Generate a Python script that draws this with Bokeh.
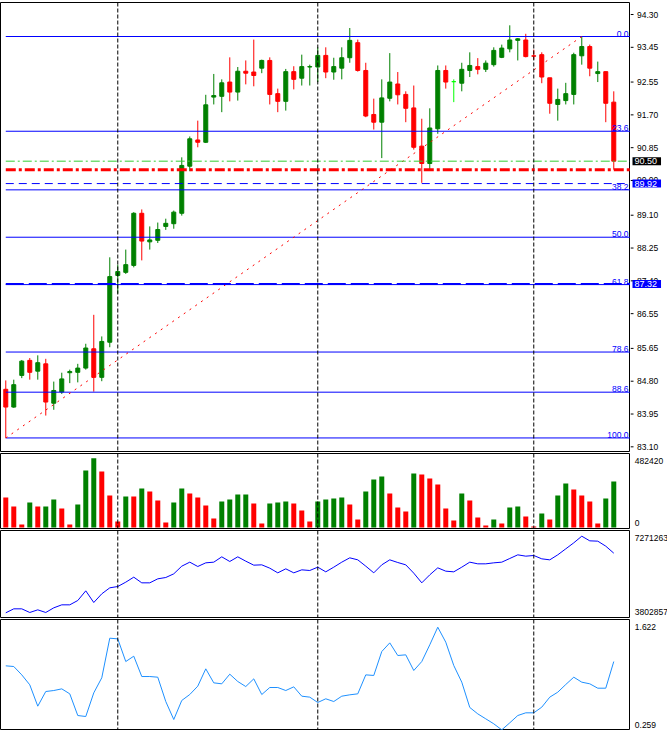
from bokeh.plotting import figure
from bokeh.models import Range1d, Span, Label, ColumnDataSource
from bokeh.layouts import column, row
from bokeh.embed import file_html
from bokeh.resources import INLINE

# ---------------- data ----------------
opens = [84.59, 84.13, 84.95, 85.34, 85.06, 85.25, 84.23, 84.52, 85.02, 85.03,
         85.14, 85.64, 84.90, 85.81, 87.54, 87.62, 87.80, 89.15, 88.41, 88.45,
         88.81, 88.88, 89.15, 90.37, 91.05, 90.99, 92.16, 92.18, 92.55, 92.29,
         92.83, 92.81, 92.91, 93.11, 92.25, 92.05, 92.82, 92.65, 92.94, 92.94,
         93.24, 92.81, 92.91, 93.18, 93.57, 92.85, 91.71, 91.51, 92.13, 92.50,
         92.23, 91.88, 90.89, 90.44, 91.34, 92.85, 92.56, 92.52, 92.85, 92.95,
         92.88, 93.00, 93.19, 93.41, 93.63, 93.64, 93.23, 93.26, 92.66, 91.97,
         92.07, 92.23, 93.23, 93.47, 92.77, 92.82, 92.03]
highs = [84.82, 84.84, 85.35, 85.40, 85.47, 85.38, 84.79, 85.02, 85.10, 85.25,
         85.77, 86.52, 85.96, 88.01, 87.82, 88.21, 89.18, 89.25, 88.81, 88.91,
         89.01, 89.22, 90.60, 91.14, 91.55, 92.22, 92.76, 92.62, 93.19, 92.94,
         93.11, 93.65, 93.13, 93.19, 92.38, 92.89, 92.96, 93.26, 93.00, 93.45,
         93.45, 93.18, 93.45, 93.95, 93.65, 93.05, 92.12, 92.62, 93.30, 92.81,
         92.31, 92.46, 91.60, 91.87, 92.98, 92.98, 92.62, 93.05, 93.32, 93.17,
         93.11, 93.45, 93.52, 94.02, 93.69, 93.80, 93.39, 93.32, 92.66, 92.38,
         92.53, 93.31, 93.73, 93.52, 93.08, 92.82, 92.31]
lows = [83.33, 84.11, 84.88, 84.84, 84.84, 83.91, 84.06, 84.47, 84.75, 84.77,
        85.10, 84.53, 84.80, 85.68, 87.07, 87.58, 87.75, 87.93, 88.21, 88.38,
        88.72, 88.75, 89.09, 90.24, 90.86, 90.97, 91.97, 91.77, 92.05, 92.07,
        92.49, 92.44, 92.78, 91.97, 91.77, 91.81, 92.36, 92.46, 92.46, 92.55,
        92.65, 92.61, 92.62, 93.05, 92.82, 91.64, 91.32, 90.58, 92.05, 91.97,
        91.51, 90.80, 89.94, 90.26, 91.21, 92.38, 92.03, 92.31, 92.68, 92.75,
        92.81, 92.95, 93.17, 93.32, 93.11, 93.19, 93.13, 92.52, 91.73, 91.55,
        91.97, 91.97, 93.00, 92.70, 92.55, 91.51, 90.28]
closes = [84.13, 84.71, 85.32, 85.03, 85.28, 84.26, 84.56, 84.86, 85.05, 85.14,
          85.66, 84.90, 85.83, 87.51, 87.64, 87.82, 89.15, 88.43, 88.46, 88.73,
          88.89, 89.18, 90.39, 91.08, 90.99, 91.96, 92.20, 92.53, 92.29, 92.83,
          92.78, 92.72, 93.11, 92.23, 92.05, 92.82, 92.62, 92.95, 92.95, 93.24,
          92.81, 92.95, 93.18, 93.63, 92.85, 91.67, 91.51, 92.14, 92.55, 92.22,
          91.87, 90.86, 90.44, 91.36, 92.85, 92.55, 92.56, 92.88, 92.98, 92.88,
          93.04, 93.37, 93.43, 93.64, 93.67, 93.21, 93.22, 92.68, 92.00, 92.10,
          92.25, 93.26, 93.47, 92.91, 92.82, 92.00, 90.50]

volumes = [208700, 146100, 20900, 173900, 146100, 146500, 194800, 132200, 20900, 160000,
           396600, 482420, 389600, 222600, 41700, 215700, 215600, 271400, 250500, 187900,
           34800, 173900, 271400, 236600, 208700, 153100, 62600, 180900, 194800, 229600,
           229700, 167000, 27800, 167000, 173900, 180900, 167000, 118300, 41700, 180900,
           194800, 201800, 208700, 160000, 55700, 250500, 334000, 354800, 236600, 139200,
           111300, 375700, 368800, 340900, 299200, 132200, 48700, 236600, 187900, 69600,
           13900, 55700, 27800, 139200, 146100, 76500, 7000, 97400, 55700, 222600,
           306100, 264400, 222600, 180900, 27800, 201800, 320100]
volume_up = [0, 0, 0, 1, 0, 1, 1, 0, 0, 1,
             1, 1, 0, 0, 0, 1, 0, 1, 0, 0,
             0, 1, 1, 0, 0, 0, 0, 1, 1, 1,
             1, 0, 0, 1, 1, 1, 0, 0, 0, 1,
             1, 1, 1, 0, 0, 1, 1, 1, 0, 0,
             0, 1, 0, 0, 0, 0, 0, 1, 0, 0,
             0, 1, 0, 1, 1, 0, 0, 1, 0, 1,
             1, 0, 0, 0, 0, 1, 1]

obv = [3802857, 3982500, 3982500, 3816500, 3937200, 3816500, 4027700, 4163500, 4163500, 4359700,
       4797400, 4269200, 4661700, 4933400, 4993700, 5189900, 5416300, 5159700, 5159700, 5340800,
       5401200, 5567200, 5914400, 6095500, 5899300, 6065300, 6095500, 6337000, 6125700, 6337000,
       6140800, 5959700, 5974700, 5823800, 5612500, 5793600, 5612500, 5748400, 5718200, 5869100,
       5657800, 5869100, 6095500, 6291700, 6201200, 5914400, 5612500, 5974800, 6201200, 6080400,
       5974800, 5597400, 5159800, 5522000, 5838900, 5688000, 5657800, 5869100, 6095500, 6020100,
       6020100, 6065300, 6095500, 6261600, 6427600, 6367200, 6397400, 6246500, 6201200, 6427600,
       6699200, 6970900, 7271263, 7061500, 7046400, 6820000, 6503000]

osc = [1.109, 1.100, 0.989, 0.857, 0.573, 0.768, 0.781, 0.803, 0.737, 0.449,
       0.436, 0.750, 0.950, 1.476, 1.467, 1.166, 1.237, 0.967, 0.967, 0.958,
       0.635, 0.396, 0.649, 0.728, 0.839, 1.069, 0.883, 0.870, 0.998, 0.901,
       0.834, 0.936, 0.728, 0.821, 0.821, 0.781, 0.830, 0.706, 0.693, 0.622,
       0.671, 0.635, 0.706, 0.724, 0.737, 0.989, 0.981, 1.299, 1.414, 1.246,
       1.255, 1.047, 1.166, 1.388, 1.622, 1.423, 1.113, 0.892, 0.556, 0.471,
       0.405, 0.339, 0.259, 0.352, 0.449, 0.485, 0.485, 0.560, 0.693, 0.759,
       0.861, 0.958, 0.892, 0.870, 0.812, 0.812, 1.166]

price_ticks = [94.30, 93.45, 92.55, 91.70, 90.85, 90.00, 89.10, 88.25,
               87.40, 86.55, 85.65, 84.80, 83.95, 83.10]
fib_levels = [0.0, 23.6, 38.2, 50.0, 61.8, 78.6, 88.6, 100.0]
fib_from_bar = 0      # low anchor
fib_to_bar = 72       # high anchor
bid_price = 90.50
red_level = 90.28
blue_level_1 = 89.92
blue_level_2 = 87.32
separators = [14, 39, 66]

# ---------------- helpers ----------------
FONT = "Liberation Sans"
FS = "8.5px"
PANEL_W = 630
AXIS_W = 37
idx = list(range(len(opens)))
xr = Range1d(-0.66, 78.09)


def base_fig(w, h, top, bottom, x_range, y_range):
    p = figure(width=w, height=h, x_range=x_range, y_range=y_range,
               output_backend="svg", toolbar_location=None,
               min_border_left=0, min_border_right=0,
               min_border_top=top, min_border_bottom=bottom,
               x_axis_location=None, y_axis_location=None)
    p.grid.visible = False
    p.background_fill_color = "white"
    p.border_fill_color = "white"
    return p


def panel(h, top, bottom, y_range):
    p = base_fig(PANEL_W, h, top, bottom, xr, y_range)
    p.outline_line_color = "black"
    p.outline_line_width = 1
    p.outline_line_alpha = 1
    for s in separators:
        p.add_layout(Span(location=s, dimension="height", line_color="black",
                          line_dash="4 2", line_width=1))
    return p


def axis_panel(h, top, bottom, y_range):
    a = base_fig(AXIS_W, h, top, bottom, Range1d(0, AXIS_W), y_range)
    a.outline_line_color = None
    return a


def side_label(a, y, text, yoff):
    a.add_layout(Label(x=4.3, y=y, x_units="data", y_units="data", text=text,
                       text_align="left", text_baseline="middle", y_offset=yoff,
                       text_font=FONT, text_font_size=FS, text_color="black"))


# ---------------- main price panel ----------------
yr1 = Range1d(82.953, 94.611)
p1 = panel(452, 2, 0, yr1)
a1 = axis_panel(452, 2, 0, yr1)

# price scale: tick marks and labels
a1.segment(x0=[0] * len(price_ticks), y0=price_ticks, x1=[3] * len(price_ticks),
           y1=price_ticks, line_color="black", line_width=1)
a1.text(x=[6.5] * len(price_ticks), y=price_ticks,
        text=[f"{t:.2f}" for t in price_ticks], text_align="left",
        text_baseline="middle", text_font={"value": FONT},
        text_font_size={"value": FS}, text_color="black")

colors = ["#008000" if c > o else ("#FF0000" if c < o else "#00FF00")
          for o, c in zip(opens, closes)]
src = ColumnDataSource(dict(x=idx, h=highs, l=lows,
                            top=[max(o, c) for o, c in zip(opens, closes)],
                            bot=[min(o, c) for o, c in zip(opens, closes)],
                            color=colors))
p1.segment(x0="x", y0="h", x1="x", y1="l", line_color="color", line_width=1, source=src)
p1.vbar(x="x", width=0.5, top="top", bottom="bot", fill_color="color",
        line_color="color", line_width=1, source=src)

# fibonacci retracement
f_lo = lows[fib_from_bar]
f_hi = highs[fib_to_bar]
fib_prices = [f_hi - (f_hi - f_lo) * lv / 100.0 for lv in fib_levels]
p1.ray(x=[fib_from_bar] * len(fib_prices), y=fib_prices, length=0, angle=0,
       line_color="#0000FF", line_width=1)
for lv, fp in zip(fib_levels, fib_prices):
    p1.add_layout(Label(x=628, y=fp, x_units="screen", y_units="data",
                        text=f"{lv:.1f}", text_align="right",
                        text_baseline="alphabetic", y_offset=3,
                        text_font=FONT, text_font_size=FS, text_color="#0000FF"))

# trend line (dotted)
p1.segment(x0=[fib_from_bar], y0=[f_lo], x1=[fib_to_bar], y1=[f_hi],
           line_color="#FF0000", line_dash="2 5", line_width=1)

# horizontal lines
p1.ray(x=[0], y=[bid_price], length=0, angle=0, line_color="#32CD32",
       line_dash="9 3 2 3", line_width=1)
p1.ray(x=[0], y=[red_level], length=0, angle=0, line_color="#FF0000",
       line_dash="10 3 3 3", line_width=3)
p1.ray(x=[0], y=[blue_level_1], length=0, angle=0, line_color="#0000FF",
       line_dash="8 5", line_width=1)
p1.ray(x=[0], y=[blue_level_2], length=0, angle=0, line_color="#0000FF",
       line_dash="18 5", line_width=2)

# price boxes on the price scale
for val, bg in [(bid_price, "black"), (blue_level_1, "#0000FF"), (blue_level_2, "#0000FF")]:
    a1.add_layout(Label(x=2, y=val, x_units="data", y_units="data",
                        text=f"{val:.2f}", text_align="left", text_baseline="middle",
                        text_font=FONT, text_font_size="9px", text_color="white",
                        background_fill_color=bg,
                        padding=dict(left=2, right=4, top=1, bottom=1)))

# ---------------- volume panel ----------------
yr2 = Range1d(-6961, 515140)
p2 = panel(77, 1, 1, yr2)
a2 = axis_panel(77, 1, 1, yr2)
vcol = ["#008000" if u else "#FF0000" for u in volume_up]
p2.vbar(x=idx, top=volumes, bottom=0, width=0.625, fill_color=vcol, line_color=None)
side_label(a2, max(volumes), str(max(volumes)), -3)
side_label(a2, 0, "0", 5)

# ---------------- OBV panel ----------------
yr3 = Range1d(3590040, 7529360)
p3 = panel(89, 1, 1, yr3)
a3 = axis_panel(89, 1, 1, yr3)
p3.line(idx, obv, line_color="#0000FF", line_width=1)
side_label(a3, max(obv), str(max(obv)), -2)
side_label(a3, min(obv), str(min(obv)), 1)

# ---------------- oscillator panel ----------------
yr4 = Range1d(0.2501, 1.7243)
p4 = panel(112, 1, 0, yr4)
a4 = axis_panel(112, 1, 0, yr4)
p4.line(idx, osc, line_color="#1E90FF", line_width=1)
side_label(a4, max(osc), f"{max(osc):.3f}", 0)
side_label(a4, min(osc), f"{min(osc):.3f}", 5)

layout = column(row(p1, a1, spacing=0), row(p2, a2, spacing=0),
                row(p3, a3, spacing=0), row(p4, a4, spacing=0), spacing=0)
open("out.html", "w").write(file_html(layout, INLINE))
